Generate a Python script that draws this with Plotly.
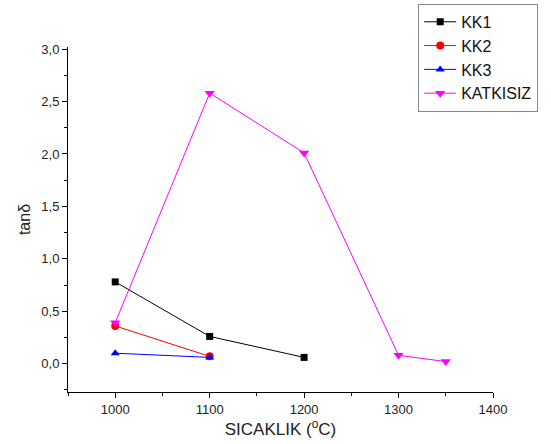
import plotly.graph_objects as go

temps_kk1 = [1000, 1100, 1200]
kk1 = [0.78, 0.26, 0.06]
temps_kk2 = [1000, 1100]
kk2 = [0.36, 0.07]
temps_kk3 = [1000, 1100]
kk3 = [0.10, 0.06]
temps_kat = [1000, 1100, 1200, 1300, 1350]
katkisiz = [0.39, 2.58, 2.01, 0.08, 0.02]

fig = go.Figure()
series = [
    ("KK1", temps_kk1, kk1, "black", "square", 7),
    ("KK2", temps_kk2, kk2, "red", "circle", 8),
    ("KK3", temps_kk3, kk3, "blue", "triangle-up", 8),
    ("KATKISIZ", temps_kat, katkisiz, "magenta", "triangle-down", 9),
]
for name, x, y, c, sym, sz in series:
    fig.add_trace(go.Scatter(x=x, y=y, name=name, mode="lines+markers",
                             line=dict(color=c, width=1),
                             marker=dict(color=c, symbol=sym, size=sz)))

font = "Liberation Sans, Arial, sans-serif"
fig.update_layout(
    width=551, height=444,
    margin=dict(l=68, r=58, t=47, b=52, autoexpand=False),
    paper_bgcolor="white", plot_bgcolor="white",
    font=dict(family=font, color="#222", size=13),
    showlegend=True,
    legend=dict(x=0.824, y=1.125, xanchor="left", yanchor="top",
                bordercolor="#888", borderwidth=1, bgcolor="white",
                font=dict(size=16, color="#111"), tracegroupgap=0,
                itemwidth=32),
    xaxis=dict(range=[950, 1400], tickvals=[1000, 1100, 1200, 1300, 1400],
               ticks="outside", ticklen=5, tickcolor="black",
               showline=True, linecolor="black", linewidth=1,
               showgrid=False, zeroline=False, automargin=False,
               minor=dict(ticks="outside", ticklen=3, tickcolor="black", dtick=50, tick0=950),
               title=dict(text="SICAKLIK (<sup>o</sup>C)", font=dict(size=17, color="#222"), standoff=2),
               tickfont=dict(size=13)),
    yaxis=dict(range=[-0.27, 3.02], tickvals=[0, 0.5, 1, 1.5, 2, 2.5, 3],
               ticktext=["0,0", "0,5", "1,0", "1,5", "2,0", "2,5", "3,0"],
               ticks="outside", ticklen=5, tickcolor="black",
               showline=True, linecolor="black", linewidth=1,
               showgrid=False, zeroline=False, automargin=False,
               minor=dict(ticks="outside", ticklen=3, tickcolor="black", dtick=0.25, tick0=0),
               title=dict(text="tanδ", font=dict(size=16, color="#222"), standoff=6),
               tickfont=dict(size=13)),
)
fig.write_html("out.html", config={"displayModeBar": False},
               post_script="document.body.style.margin='0px';")
